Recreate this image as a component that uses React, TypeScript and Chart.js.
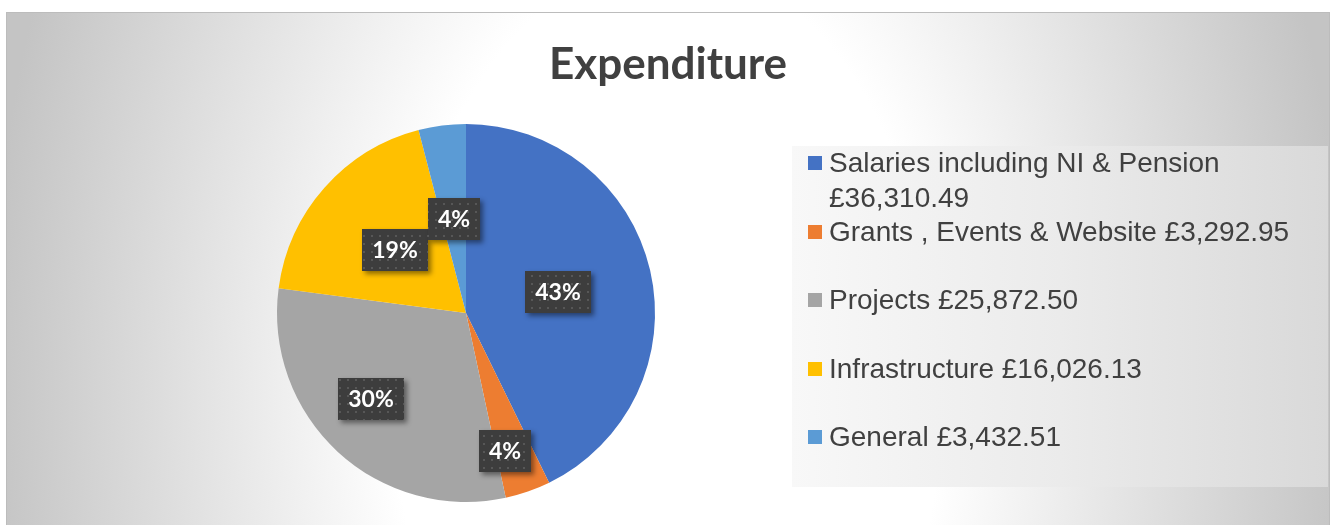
import React, { useEffect, useRef } from "react";
import { Chart, registerables } from "chart.js";

Chart.register(...registerables);

const TITLE = "Expenditure";
const CATEGORIES = [
  "Salaries including NI & Pension",
  "Grants , Events & Website",
  "Projects",
  "Infrastructure",
  "General",
];
const AMOUNTS = [36310.49, 3292.95, 25872.5, 16026.13, 3432.51];
const AMOUNT_LABELS = ["£36,310.49", "£3,292.95", "£25,872.50", "£16,026.13", "£3,432.51"];
const COLORS = ["#4472C4", "#ED7D31", "#A5A5A5", "#FFC000", "#5B9BD5"];

// label placement tweaks (styling only)
const LABEL_RADIUS = [0.5, 0.76, 0.68, 0.5, 0.5];
const LABEL_ANGLE_SHIFT = [0, 3.4, 5.1, 0, 0];

const W = 1330;
const H = 525;
const FRAME = { x: 6, y: 12, w: 1323, h: 530 };
const LEGEND_BOX = { x: 792, y: 146, w: 536, h: 341 };

function makePattern(ctx: CanvasRenderingContext2D) {
  const c = document.createElement("canvas");
  c.width = 8;
  c.height = 8;
  const p = c.getContext("2d")!;
  p.fillStyle = "#3d3d3d";
  p.fillRect(0, 0, 8, 8);
  p.fillStyle = "#575757";
  p.fillRect(3, 3, 2, 2);
  return ctx.createPattern(c, "repeat");
}

const backgroundPlugin = {
  id: "bgPlugin",
  beforeDraw(chart: any) {
    const ctx: CanvasRenderingContext2D = chart.ctx;
    ctx.save();
    ctx.fillStyle = "#ffffff";
    ctx.fillRect(0, 0, W, H);
    ctx.save();
    ctx.beginPath();
    ctx.rect(FRAME.x, FRAME.y, FRAME.w, FRAME.h);
    ctx.clip();
    ctx.save();
    ctx.translate(668, 400);
    ctx.scale(1, 1100 / 680);
    const g = ctx.createRadialGradient(0, 0, 0, 0, 0, 680);
    g.addColorStop(0, "#ffffff");
    g.addColorStop(0.4, "#ffffff");
    g.addColorStop(1, "#c4c4c4");
    ctx.fillStyle = g;
    ctx.fillRect(-720, -400, 1440, 600);
    ctx.restore();
    ctx.restore();
    ctx.strokeStyle = "#bcbcbc";
    ctx.lineWidth = 1;
    ctx.strokeRect(FRAME.x + 0.5, FRAME.y + 0.5, FRAME.w, FRAME.h);

    // legend box
    const lg = ctx.createLinearGradient(LEGEND_BOX.x, 0, LEGEND_BOX.x + LEGEND_BOX.w, 0);
    lg.addColorStop(0, "#f8f8f8");
    lg.addColorStop(0.5, "#ebebeb");
    lg.addColorStop(1, "#d9d9d9");
    ctx.fillStyle = lg;
    ctx.fillRect(LEGEND_BOX.x, LEGEND_BOX.y, LEGEND_BOX.w, LEGEND_BOX.h);

    // title
    ctx.fillStyle = "#404040";
    ctx.font = "bold 44px Lato, 'Open Sans', sans-serif";
    ctx.textAlign = "center";
    ctx.textBaseline = "alphabetic";
    ctx.fillText(TITLE, 668, 79);
    ctx.restore();
  },
};

const labelsPlugin = {
  id: "labelsPlugin",
  afterDatasetsDraw(chart: any) {
    const ctx: CanvasRenderingContext2D = chart.ctx;
    const meta = chart.getDatasetMeta(0);
    const data: number[] = chart.data.datasets[0].data;
    const total = data.reduce((a, b) => a + b, 0);
    const pattern = makePattern(ctx);
    ctx.save();
    meta.data.forEach((arc: any, i: number) => {
      const { x, y, startAngle, endAngle, outerRadius } = arc.getProps(
        ["x", "y", "startAngle", "endAngle", "outerRadius"],
        true
      );
      const mid = (startAngle + endAngle) / 2 + (LABEL_ANGLE_SHIFT[i] * Math.PI) / 180;
      const r = outerRadius * LABEL_RADIUS[i];
      const cx = x + Math.cos(mid) * r;
      const cy = y + Math.sin(mid) * r;
      const text = Math.round((data[i] / total) * 100) + "%";
      ctx.font = "bold 23px Lato, 'Open Sans', sans-serif";
      const tw = ctx.measureText(text).width;
      const bw = Math.round(tw + 20);
      const bh = 42;
      const bx = Math.round(cx - bw / 2);
      const by = Math.round(cy - bh / 2);
      ctx.save();
      ctx.shadowColor = "rgba(0,0,0,0.45)";
      ctx.shadowBlur = 5;
      ctx.shadowOffsetX = 3;
      ctx.shadowOffsetY = 3;
      ctx.fillStyle = "#3d3d3d";
      ctx.fillRect(bx, by, bw, bh);
      ctx.restore();
      if (pattern) {
        ctx.fillStyle = pattern;
        ctx.fillRect(bx, by, bw, bh);
      }
      ctx.fillStyle = "#ffffff";
      ctx.textAlign = "center";
      ctx.textBaseline = "middle";
      ctx.fillText(text, bx + bw / 2, by + bh / 2 + 1);
    });
    ctx.restore();
  },
};

const legendPlugin = {
  id: "legendPlugin",
  afterDraw(chart: any) {
    const ctx: CanvasRenderingContext2D = chart.ctx;
    const labels: string[] = chart.data.labels;
    const colors: string[] = chart.data.datasets[0].backgroundColor;
    ctx.save();
    ctx.font = "28px 'Liberation Sans', Arial, sans-serif";
    ctx.textAlign = "left";
    ctx.textBaseline = "alphabetic";
    const textX = 829;
    const maxW = LEGEND_BOX.x + LEGEND_BOX.w - textX - 8;
    labels.forEach((lab, i) => {
      const base = 172 + i * 68.5;
      ctx.fillStyle = colors[i];
      ctx.fillRect(808, Math.round(base - 16), 14, 14);
      const full = lab + " " + AMOUNT_LABELS[i];
      const words = full.split(" ");
      const lines: string[] = [];
      let cur = "";
      words.forEach((w) => {
        const test = cur ? cur + " " + w : w;
        if (ctx.measureText(test).width > maxW && cur) {
          lines.push(cur);
          cur = w;
        } else {
          cur = test;
        }
      });
      if (cur) lines.push(cur);
      ctx.fillStyle = "#404040";
      lines.forEach((ln, k) => {
        ctx.fillText(ln, textX, base + k * 35);
      });
    });
    ctx.restore();
  },
};

export default function App() {
  const ref = useRef<HTMLCanvasElement | null>(null);
  useEffect(() => {
    document.body.style.margin = "0";
    if (!ref.current) return;
    const chart = new Chart(ref.current, {
      type: "pie",
      data: {
        labels: CATEGORIES,
        datasets: [
          {
            data: AMOUNTS,
            backgroundColor: COLORS,
            borderWidth: 0,
          },
        ],
      },
      options: {
        responsive: false,
        animation: false,
        devicePixelRatio: 1,
        events: [],
        layout: { padding: { top: 124, bottom: 23, left: 277, right: 675 } },
        plugins: {
          legend: { display: false },
          tooltip: { enabled: false },
          title: { display: false },
        },
      },
      plugins: [backgroundPlugin, labelsPlugin, legendPlugin],
    } as any);
    return () => chart.destroy();
  }, []);
  return (
    <div style={{ width: W, height: H, overflow: "hidden" }}>
      <canvas ref={ref} width={W} height={H} style={{ display: "block" }} />
    </div>
  );
}
